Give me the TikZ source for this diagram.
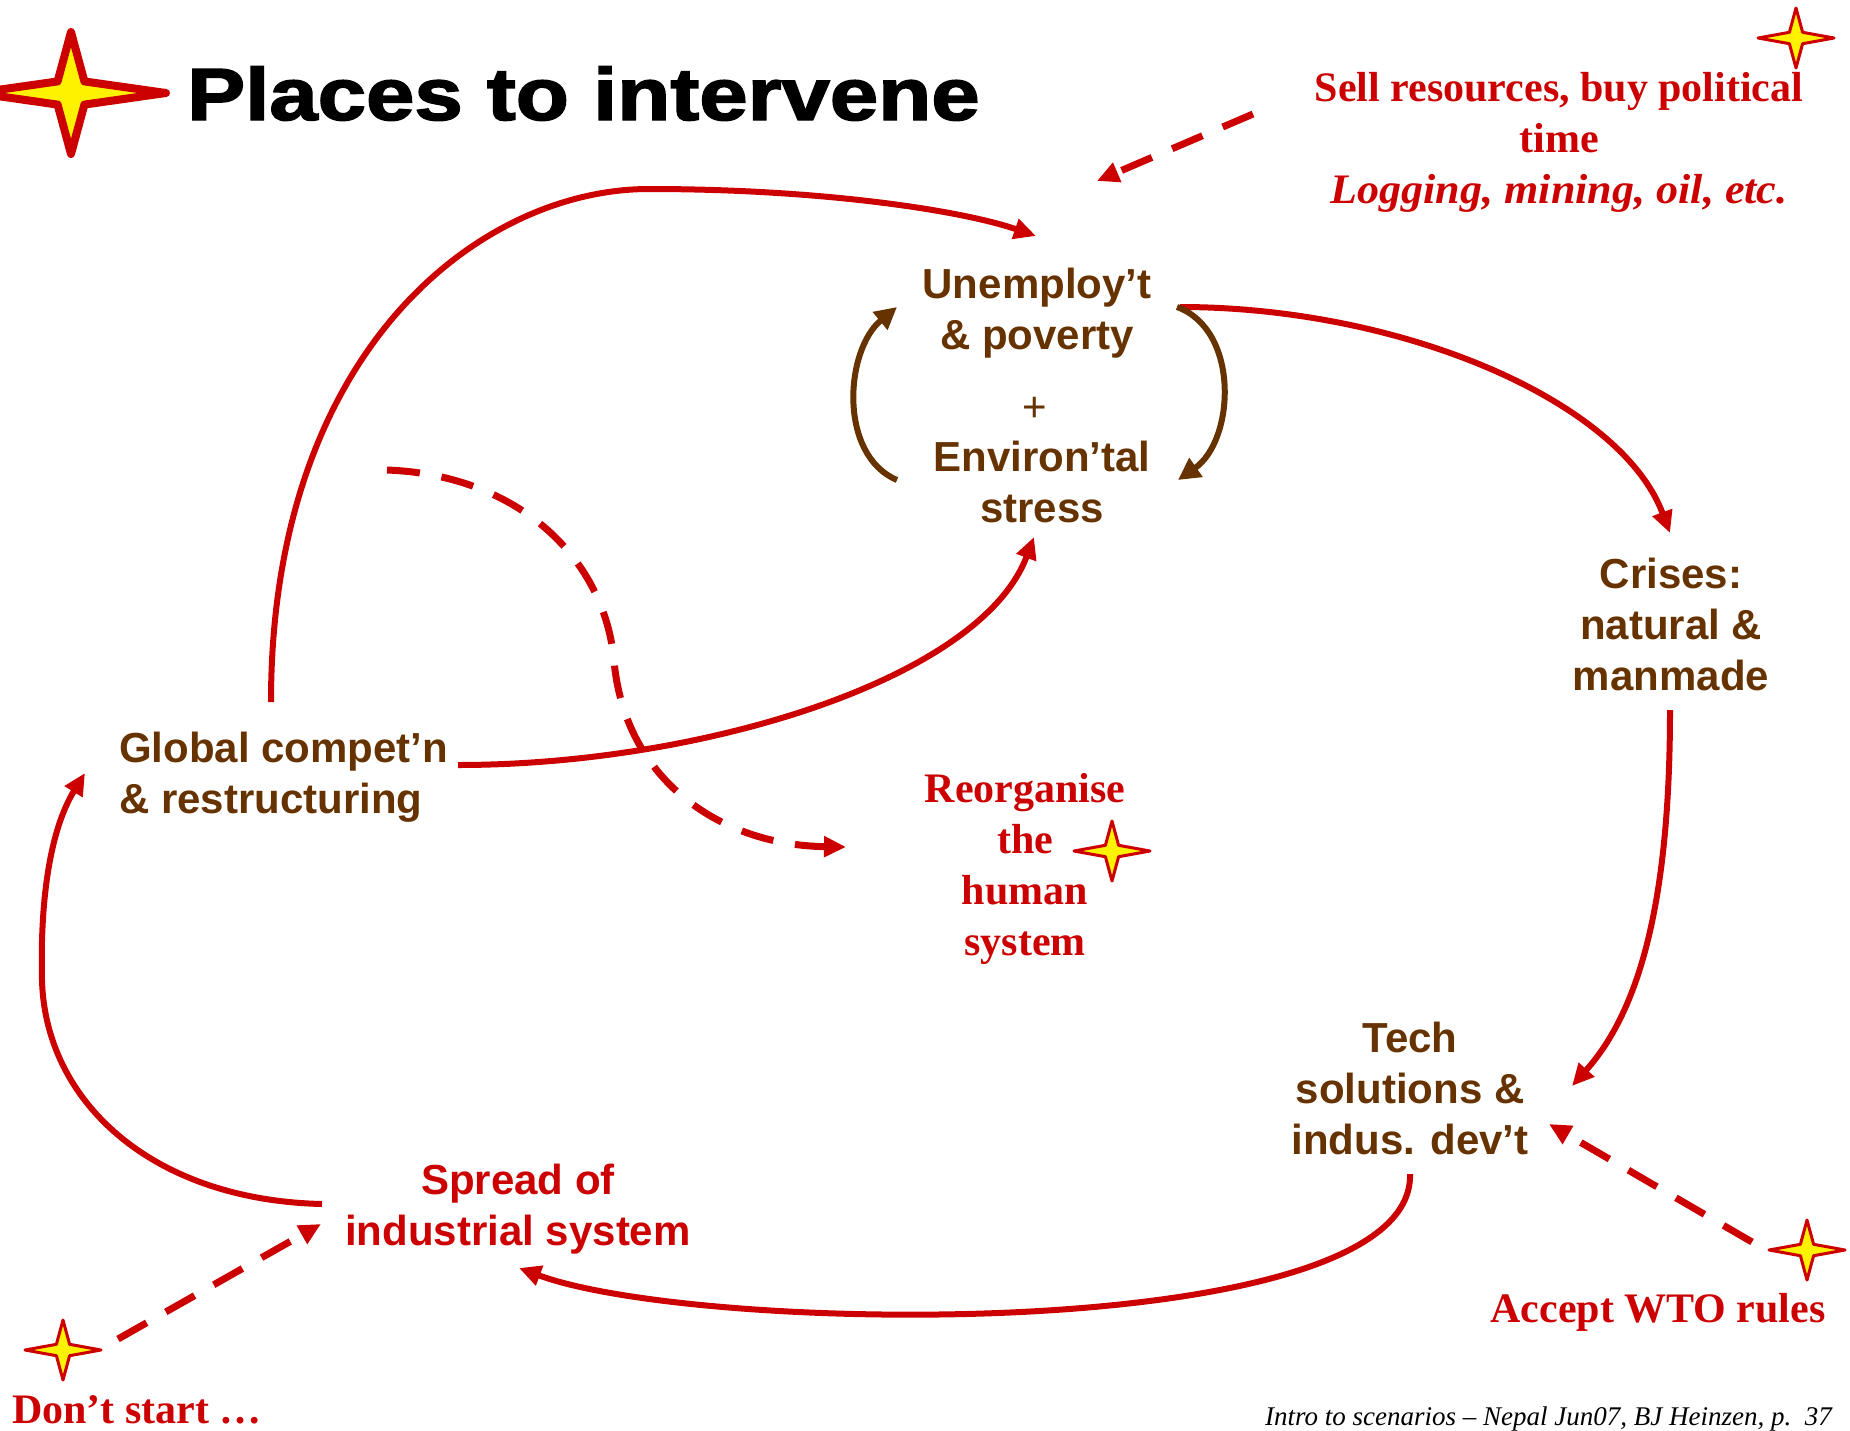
\documentclass[tikz,border=0pt]{standalone}
\usepackage{fontspec}
\setmainfont{Liberation Serif}
\setsansfont{Liberation Sans}
\newfontfamily\titlefont[FakeBold=2]{Liberation Sans}
\usetikzlibrary{arrows.meta}
\definecolor{brn}{RGB}{102,51,0}
\definecolor{rd}{RGB}{204,0,0}
\newcommand\sparkle[5]{\begin{scope}[shift={(#1,#2)}]
 \filldraw[fill=yellow,draw=rd,line width=#5,line join=round]
 (0,-#4) -- ({0.22*#4},{-0.19*#4}) -- (#3,0) -- ({0.22*#4},{0.19*#4}) -- (0,#4) -- ({-0.22*#4},{0.19*#4}) -- (-#3,0) -- ({-0.22*#4},{-0.19*#4}) -- cycle;
\end{scope}}
\tikzset{
 brntext/.style={font=\sffamily\bfseries\fontsize{42}{51}\selectfont, text=brn, inner sep=0pt},
 rdsans/.style={font=\sffamily\bfseries\fontsize{42}{51}\selectfont, text=rd, inner sep=0pt},
 rdserif/.style={font=\rmfamily\bfseries\fontsize{42}{51}\selectfont, text=rd, inner sep=0pt},
 link/.style={draw=rd, line width=6pt, -{Triangle[length=22pt,width=20pt]}},
 dlink/.style={link, line width=7pt, dash pattern=on 33pt off 22pt},
 loopar/.style={draw=brn, line width=6pt, -{Triangle[length=22pt,width=22pt]}},
}
\begin{document}
\begin{tikzpicture}[x=1pt,y=-1pt]
\useasboundingbox (0,0) rectangle (1850,1430);
% title
\sparkle{71}{93}{95}{61}{8pt}
\node[anchor=base west, inner sep=0pt, font=\titlefont\bfseries\fontsize{74}{80}\selectfont] (title) at (187,120) {\scalebox{1.175}[1]{Places to intervene}};
% stars
\sparkle{1796}{38}{38}{30}{3pt}
\sparkle{1112}{851}{38}{30}{3pt}
\sparkle{63}{1350}{38}{30}{3pt}
\sparkle{1807}{1250}{38}{30}{3pt}
% texts (base anchor = baseline of last line)
\node[brntext, align=center, anchor=base] (unemp) at (1037,349) {Unemploy’t\\\& poverty};
\node[font=\sffamily\fontsize{42}{51}\selectfont, text=brn, inner sep=0pt] (plus) at (1035,409) {+};
\node[brntext, align=center, anchor=base] (envir) at (1042,522) {Environ’tal\\stress};
\node[brntext, align=center, anchor=base] (crises) at (1671,690) {Crises:\\natural \&\\manmade};
\node[brntext, align=center, anchor=base] (tech) at (1410,1154) {Tech\\solutions \&\\indus. dev’t};
\node[brntext, align=left, anchor=base west] (glob) at (119,813) {Global compet’n\\\& restructuring};
\node[rdsans, align=center, anchor=base] (spread) at (518,1245) {Spread of\\industrial system};
\node[rdserif, align=center, anchor=base] (reorg) at (1025,955) {Reorganise\\the\\human\\system};
\node[rdserif, align=center, anchor=base] (sell) at (1559,203) {Sell resources, buy political\\time\\\scalebox{1.05}[1]{\textit{Logging, mining, oil, etc.}}};
\node[rdserif, anchor=base] (wto) at (1658,1322) {Accept WTO rules};
\node[rdserif, anchor=base west] (dont) at (12,1423) {Don’t start …};
\node[anchor=base east, inner sep=0pt, font=\rmfamily\itshape\fontsize{27}{30}\selectfont] (foot) at (1832,1425) {Intro to scenarios – Nepal Jun07, BJ Heinzen, p.\ \ 37};
% connector ends
\coordinate (gTop) at (271,702);
\coordinate (uTop) at (1036,236);
\coordinate (gRight) at (458,765);
\coordinate (eBot) at (1034,537);
\coordinate (uRight) at (1180,307);
\coordinate (cTop) at (1670,533);
\coordinate (cBot) at (1670,710);
\coordinate (tTop) at (1572,1086);
\coordinate (tBot) at (1410,1174);
\coordinate (sRight) at (519,1268);
\coordinate (sLeft) at (322,1204);
\coordinate (gBot) at (85,773);
\coordinate (sellA) at (1253,114);
\coordinate (sellB) at (1097,181);
\coordinate (dontA) at (118,1339);
\coordinate (dontB) at (321,1224);
\coordinate (wtoA) at (1752,1242);
\coordinate (wtoB) at (1549,1124);
\coordinate (reA) at (387,470);
\coordinate (reB) at (846,847);
\coordinate (lpA) at (897,480);
\coordinate (lpB) at (897,307);
\coordinate (rpA) at (1177,307);
\coordinate (rpB) at (1178,480);
% red solid links
\draw[link] (gTop) .. controls (271,350) and (480,189) .. (649,189) .. controls (820,189) and (960,210) .. (uTop);
\draw[link] (gRight) .. controls (700,765) and (980,680) .. (eBot);
\draw[link] (uRight) .. controls (1400,307) and (1620,400) .. (cTop);
\draw[link] (cBot) .. controls (1670,900) and (1640,1010) .. (tTop);
\draw[link] (tBot) .. controls (1415,1345) and (700,1335) .. (sRight);
\draw[link] (sLeft) .. controls (150,1200) and (45,1100) .. (42,980) .. controls (40,900) and (50,830) .. (gBot);
% dashed
\draw[dlink] (sellA) -- (sellB);
\draw[dlink] (dontA) -- (dontB);
\draw[dlink] (wtoA) -- (wtoB);
\draw[dlink] (reA) .. controls (520,475) and (605,560) .. (614,661) .. controls (625,780) and (720,845) .. (reB);
% brown loop
\draw[loopar] (lpA) .. controls (838,455) and (845,350) .. (lpB);
\draw[loopar] (rpA) .. controls (1240,330) and (1235,440) .. (rpB);
\end{tikzpicture}
\end{document}
